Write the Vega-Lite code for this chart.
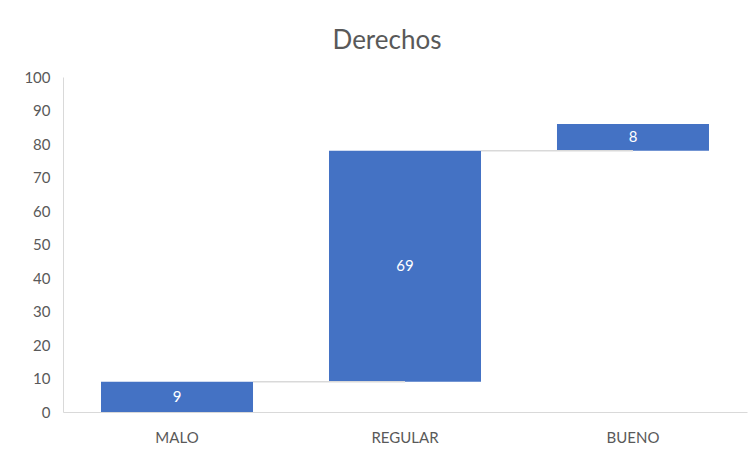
{
  "$schema": "https://vega.github.io/schema/vega-lite/v6.json",
  "autosize": {"type": "none"},
  "width": 684,
  "height": 335,
  "padding": {"left": 63, "top": 77, "right": 3, "bottom": 43},
  "background": "white",
  "config": {
    "view": {"stroke": null},
    "axisY": {"labelOverlap": false, "tickCount": 11}
  },
  "title": {"text": "Derechos", "fontSize": 26, "font": "Lato", "fontWeight": "normal", "color": "#595959", "offset": 16, "dx": -18},
  "data": {"values": [
    {"cat": "MALO", "start": 0, "end": 9, "value": 9, "next": "REGULAR"},
    {"cat": "REGULAR", "start": 9, "end": 78, "value": 69, "next": "BUENO"},
    {"cat": "BUENO", "start": 78, "end": 86, "value": 8, "next": null}
  ]},
  "encoding": {
    "x": {"field": "cat", "type": "nominal", "sort": ["MALO", "REGULAR", "BUENO"],
      "scale": {"paddingInner": 0.3333, "paddingOuter": 0.1667},
      "axis": {"title": null, "labelAngle": 0, "ticks": false, "domainColor": "#d9d9d9", "labelColor": "#595959", "labelFont": "Lato", "labelFontSize": 15, "labelPadding": 18}}
  },
  "layer": [
    {
      "mark": {"type": "bar", "color": "#4472C4"},
      "encoding": {
        "y": {"field": "start", "type": "quantitative", "scale": {"domain": [0, 100], "nice": false},
          "axis": {"title": null, "tickCount": 11, "values": [0,10,20,30,40,50,60,70,80,90,100], "labelOverlap": false, "labelFlush": false, "grid": false, "ticks": false, "domainColor": "#d9d9d9", "labelColor": "#595959", "labelFont": "Lato", "labelFontSize": 15, "labelPadding": 13}},
        "y2": {"field": "end"}
      }
    },
    {
      "transform": [{"filter": "datum.next != null"}],
      "mark": {"type": "rule", "color": "#d9d9d9", "strokeWidth": 1.5},
      "encoding": {
        "x": {"field": "cat", "type": "nominal", "sort": ["MALO", "REGULAR", "BUENO"], "bandPosition": 1},
        "x2": {"field": "next"},
        "y": {"field": "end", "type": "quantitative",
          "axis": {"title": null, "tickCount": 11, "values": [0,10,20,30,40,50,60,70,80,90,100], "labelOverlap": false, "labelFlush": false, "grid": false, "ticks": false, "domainColor": "#d9d9d9", "labelColor": "#595959", "labelFont": "Lato", "labelFontSize": 15, "labelPadding": 13}}
      }
    },
    {
      "transform": [{"calculate": "(datum.start + datum.end) / 2", "as": "mid"}],
      "mark": {"type": "text", "color": "white", "font": "Lato", "fontSize": 15},
      "encoding": {
        "y": {"field": "mid", "type": "quantitative",
          "axis": {"title": null, "tickCount": 11, "values": [0,10,20,30,40,50,60,70,80,90,100], "labelOverlap": false, "labelFlush": false, "grid": false, "ticks": false, "domainColor": "#d9d9d9", "labelColor": "#595959", "labelFont": "Lato", "labelFontSize": 15, "labelPadding": 13}},
        "text": {"field": "value", "type": "quantitative"}
      }
    }
  ]
}
